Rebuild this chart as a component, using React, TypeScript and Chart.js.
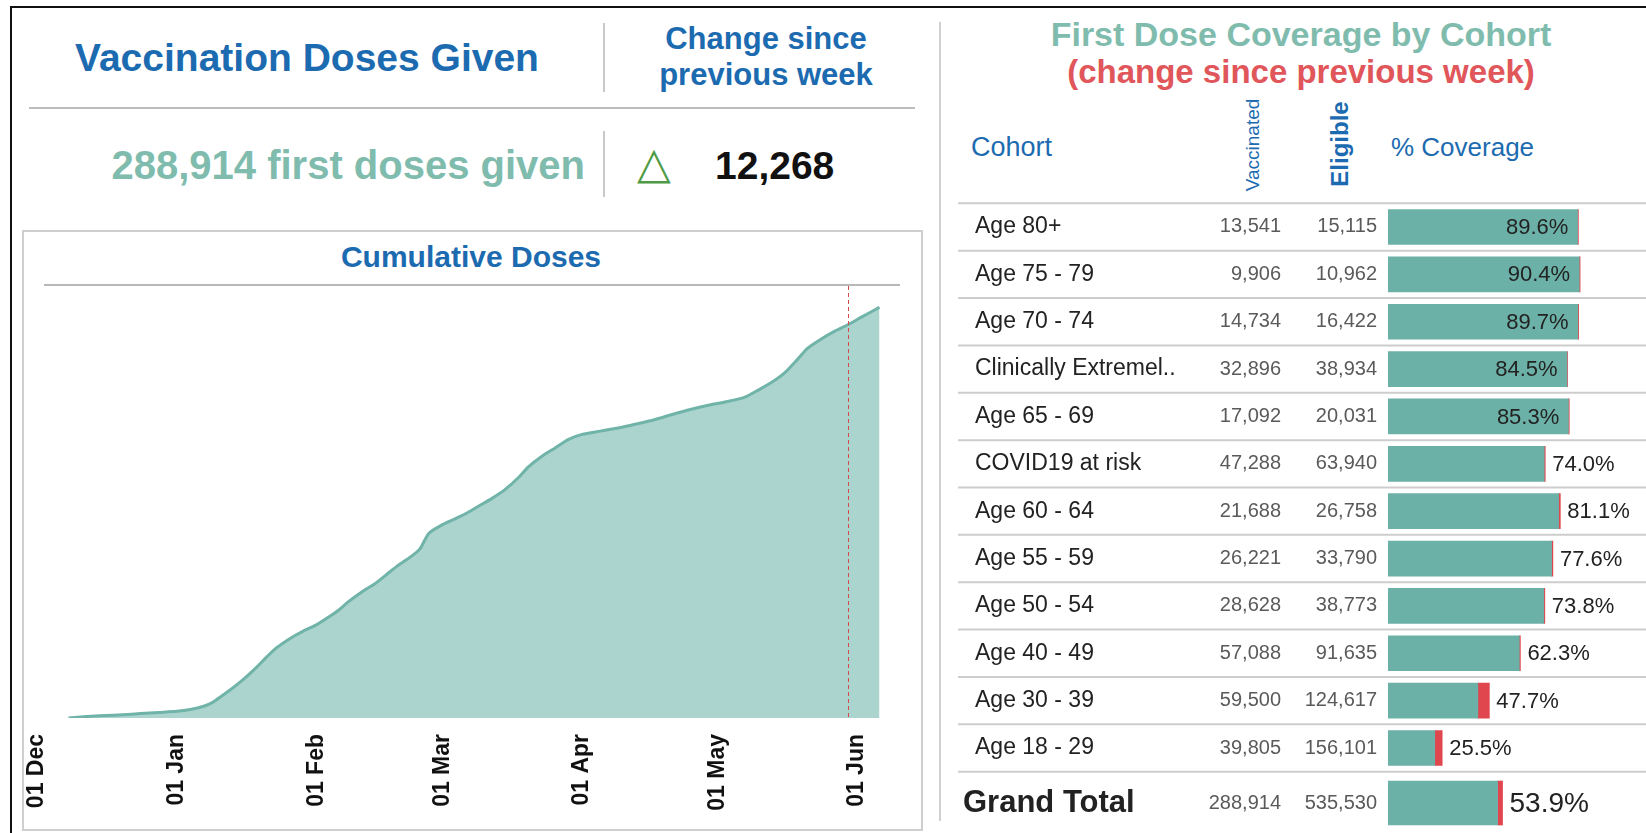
import React, { useEffect, useRef } from "react";
import { Chart, registerables } from "chart.js";

Chart.register(...registerables);

const FONT = "'Liberation Sans', Arial, Helvetica, sans-serif";
Chart.defaults.font.family = FONT;

// ---------- Cumulative doses (first doses) ----------
const doseDates = [
  "2020-12-08", "2020-12-12", "2020-12-16", "2020-12-20", "2020-12-24", "2020-12-28",
  "2021-01-01", "2021-01-04", "2021-01-07", "2021-01-09", "2021-01-11", "2021-01-13",
  "2021-01-15", "2021-01-17", "2021-01-19", "2021-01-21", "2021-01-23", "2021-01-25",
  "2021-01-27", "2021-01-29", "2021-02-01", "2021-02-04", "2021-02-06", "2021-02-08",
  "2021-02-11", "2021-02-14", "2021-02-17", "2021-02-19", "2021-02-22", "2021-02-24",
  "2021-02-26", "2021-03-01", "2021-03-04", "2021-03-06", "2021-03-09", "2021-03-12",
  "2021-03-15", "2021-03-18", "2021-03-20", "2021-03-23", "2021-03-26", "2021-03-29",
  "2021-04-01", "2021-04-05", "2021-04-09", "2021-04-13", "2021-04-17", "2021-04-21",
  "2021-04-25", "2021-04-29", "2021-05-03", "2021-05-07", "2021-05-10", "2021-05-13",
  "2021-05-16", "2021-05-19", "2021-05-21", "2021-05-24", "2021-05-27", "2021-05-30",
  "2021-06-02", "2021-06-06",
];
const cumulativeFirstDoses = [
  0, 1000, 1700, 2300, 3100, 3900,
  4700, 6000, 8300, 11000, 15500, 20000,
  25000, 30500, 36500, 43000, 49000, 53500,
  57500, 61000, 65500, 71500, 76000, 81500,
  88500, 94500, 102000, 107000, 113500, 119000,
  130000, 136000, 140500, 143500, 149000, 154500,
  161000, 169500, 176500, 184000, 190000, 196000,
  199500, 201800, 204000, 206800, 209800, 213500,
  217000, 220000, 222500, 225500, 230500, 236000,
  243000, 253000, 260000, 266500, 272000, 276646,
  282000, 288914,
];
const tickDates = ["2020-12-01", "2021-01-01", "2021-02-01", "2021-03-01", "2021-04-01", "2021-05-01", "2021-06-01"];
const tickLabels = ["01 Dec", "01 Jan", "01 Feb", "01 Mar", "01 Apr", "01 May", "01 Jun"];
const previousWeekDate = "2021-05-30";

// ---------- Coverage by cohort ----------
const cohorts = [
  "Age 80+", "Age 75 - 79", "Age 70 - 74", "Clinically Extremel..", "Age 65 - 69", "COVID19 at risk",
  "Age 60 - 64", "Age 55 - 59", "Age 50 - 54", "Age 40 - 49", "Age 30 - 39", "Age 18 - 29",
];
const vaccinated = [13541, 9906, 14734, 32896, 17092, 47288, 21688, 26221, 28628, 57088, 59500, 39805];
const eligible = [15115, 10962, 16422, 38934, 20031, 63940, 26758, 33790, 38773, 91635, 124617, 156101];
const coveragePct = [89.6, 90.4, 89.7, 84.5, 85.3, 74.0, 81.1, 77.6, 73.8, 62.3, 47.7, 25.5];
const weeklyChangePct = [0.4, 0.4, 0.4, 0.3, 0.4, 0.5, 0.8, 0.6, 0.5, 0.5, 5.4, 3.5];

const totalLabel = ["Grand Total"];
const totalVaccinated = [288914];
const totalEligible = [535530];
const totalCoveragePct = [53.9];
const totalChangePct = [2.3];

const firstDosesGiven = 288914;
const weeklyChange = 12268;

// ---------- helpers ----------
function dayIndex(iso: string) {
  const [y, m, d] = iso.split("-").map(Number);
  return Math.round((Date.UTC(y, m - 1, d) - Date.UTC(2020, 11, 1)) / 86400000);
}
const fmt = (n: number) => n.toLocaleString("en-US");

const BLUE = "#1c6bb0";
const TEAL_TEXT = "#7fbcae";
const RED_TEXT = "#e0565a";
const BAR_TEAL = "#6cb1a7";
const BAR_RED = "#e0464e";

function CumulativeChart() {
  const ref = useRef<HTMLCanvasElement>(null);
  useEffect(() => {
    const refLine = {
      id: "refLine",
      afterDatasetsDraw(chart: any) {
        const { ctx, chartArea, scales } = chart;
        const x = Math.round(scales.x.getPixelForValue(dayIndex(previousWeekDate))) + 0.5;
        ctx.save();
        ctx.strokeStyle = "#d24a4a";
        ctx.lineWidth = 1;
        ctx.setLineDash([4, 3]);
        ctx.beginPath();
        ctx.moveTo(x, 0);
        ctx.lineTo(x, chartArea.bottom);
        ctx.stroke();
        ctx.restore();
      },
    };
    const chart = new Chart(ref.current!, {
      type: "line",
      data: {
        datasets: [
          {
            data: doseDates.map((d, i) => ({ x: dayIndex(d), y: cumulativeFirstDoses[i] })),
            borderColor: "#70b3a8",
            backgroundColor: "#acd4cf",
            borderWidth: 3,
            fill: "origin",
            pointRadius: 0,
            tension: 0.25,
          },
        ],
      },
      options: {
        animation: false,
        responsive: false,
        maintainAspectRatio: false,
        layout: { padding: { left: 14, right: 29, top: 0, bottom: 0 } },
        plugins: { legend: { display: false }, tooltip: { enabled: false } },
        scales: {
          x: {
            type: "linear",
            min: 0,
            max: 190,
            grid: { display: false, drawTicks: true, tickLength: 13 },
            border: { display: false },
            afterBuildTicks: (s: any) => {
              s.ticks = tickDates.map((d) => ({ value: dayIndex(d) }));
            },
            afterFit: (s: any) => {
              s.height = 111;
              s.paddingLeft = 0;
              s.paddingRight = 0;
            },
            ticks: {
              autoSkip: false,
              maxRotation: 90,
              minRotation: 90,
              padding: 3,
              color: "#111",
              font: { family: FONT, size: 23, weight: "bold" },
              callback: (v: any) => {
                const i = tickDates.findIndex((d) => dayIndex(d) === v);
                return i >= 0 ? tickLabels[i] : "";
              },
            },
          },
          y: { display: false, min: 0, max: 303900 },
        },
      } as any,
      plugins: [refLine],
    });
    return () => chart.destroy();
  }, []);
  return (
    <canvas
      ref={ref}
      width={899}
      height={543}
      style={{ position: "absolute", left: 23, top: 286, width: 899, height: 543 }}
    />
  );
}

type BarProps = {
  labels: string[];
  vac: number[];
  elig: number[];
  cov: number[];
  chg: number[];
  left: number;
  top: number;
  width: number;
  height: number;
  padTop: number;
  padBottom: number;
  thickness: number;
  labelFont: string;
  labelX: number;
  pctFont: string;
  separators: boolean;
};

const BAR_START = 1388;
const PX_PER_PCT = 2.125;

function CohortBars(p: BarProps) {
  const ref = useRef<HTMLCanvasElement>(null);
  useEffect(() => {
    const textPlugin = {
      id: "tableText",
      beforeDatasetsDraw(chart: any) {
        if (!p.separators) return;
        const { ctx, chartArea } = chart;
        const n = p.labels.length;
        ctx.save();
        ctx.strokeStyle = "#cdcdcd";
        ctx.lineWidth = 2;
        for (let i = 0; i <= n; i++) {
          const y = chartArea.top + (i * chartArea.height) / n;
          ctx.beginPath();
          ctx.moveTo(0, y);
          ctx.lineTo(chart.width, y);
          ctx.stroke();
        }
        ctx.restore();
      },
      afterDatasetsDraw(chart: any) {
        const { ctx, scales } = chart;
        ctx.save();
        ctx.textBaseline = "middle";
        p.labels.forEach((lab, i) => {
          const cy = scales.y.getPixelForValue(i);
          ctx.fillStyle = "#222";
          ctx.font = p.labelFont;
          ctx.textAlign = "left";
          ctx.fillText(lab, p.labelX - p.left, cy);
          ctx.fillStyle = "#5a5a5a";
          ctx.font = `20px ${FONT}`;
          ctx.textAlign = "right";
          ctx.fillText(fmt(p.vac[i]), 1281 - p.left, cy);
          ctx.fillText(fmt(p.elig[i]), 1377 - p.left, cy);
          const xe = scales.x.getPixelForValue(p.cov[i]);
          ctx.fillStyle = "#222";
          ctx.font = p.pctFont;
          const txt = p.cov[i].toFixed(1) + "%";
          if (p.cov[i] >= 84) {
            ctx.textAlign = "right";
            ctx.fillText(txt, xe - 10, cy + 1);
          } else {
            ctx.textAlign = "left";
            ctx.fillText(txt, xe + 7, cy + 1);
          }
        });
        ctx.restore();
      },
    };
    const chart = new Chart(ref.current!, {
      type: "bar",
      data: {
        labels: p.labels,
        datasets: [
          {
            data: p.cov.map((c, i) => c - p.chg[i]),
            backgroundColor: BAR_TEAL,
            barThickness: p.thickness,
          },
          {
            data: p.chg,
            backgroundColor: BAR_RED,
            barThickness: p.thickness,
          },
        ],
      },
      options: {
        indexAxis: "y",
        animation: false,
        responsive: false,
        maintainAspectRatio: false,
        layout: {
          padding: { left: BAR_START - p.left, right: 0, top: p.padTop, bottom: p.padBottom },
        },
        plugins: { legend: { display: false }, tooltip: { enabled: false } },
        scales: {
          x: {
            display: false,
            stacked: true,
            min: 0,
            max: (p.left + p.width - BAR_START) / PX_PER_PCT,
          },
          y: { display: false, stacked: true },
        },
      } as any,
      plugins: [textPlugin],
    });
    return () => chart.destroy();
  }, []);
  return (
    <canvas
      ref={ref}
      width={p.width}
      height={p.height}
      style={{ position: "absolute", left: p.left, top: p.top, width: p.width, height: p.height }}
    />
  );
}

function T(props: {
  x: number;
  y: number;
  align?: "left" | "center" | "right";
  rotate?: boolean;
  style?: React.CSSProperties;
  children: React.ReactNode;
}) {
  const a = props.align || "center";
  const tx = a === "left" ? "0" : a === "right" ? "-100%" : "-50%";
  return (
    <div
      style={{
        position: "absolute",
        left: props.x,
        top: props.y,
        transform: `translate(${tx}, -50%)${props.rotate ? " rotate(-90deg)" : ""}`,
        whiteSpace: "nowrap",
        lineHeight: 1,
        textAlign: a,
        ...props.style,
      }}
    >
      {props.children}
    </div>
  );
}

function Line(props: { x: number; y: number; w: number; h: number; c?: string }) {
  return (
    <div
      style={{
        position: "absolute",
        left: props.x,
        top: props.y,
        width: props.w,
        height: props.h,
        background: props.c || "#c9c9c9",
      }}
    />
  );
}

export default function App() {
  return (
    <div
      style={{
        position: "absolute",
        left: 0,
        top: 0,
        width: 1646,
        height: 833,
        overflow: "hidden",
        background: "#fff",
        fontFamily: FONT,
      }}
    >
      {/* outer frame */}
      <Line x={10} y={6} w={1636} h={2} c="#111" />
      <Line x={10} y={6} w={2} h={827} c="#111" />

      {/* left header */}
      <T x={307} y={57} style={{ fontSize: 39, fontWeight: "bold", color: BLUE }}>
        Vaccination Doses Given
      </T>
      <Line x={603} y={23} w={2} h={69} />
      <T x={766} y={57} style={{ fontSize: 31, fontWeight: "bold", color: BLUE, lineHeight: "36px" }}>
        Change since
        <br />
        previous week
      </T>
      <Line x={29} y={107} w={886} h={2} c="#bdbdbd" />
      <T x={585} y={165} align="right" style={{ fontSize: 40, fontWeight: "bold", color: TEAL_TEXT }}>
        {fmt(firstDosesGiven)} first doses given
      </T>
      <Line x={603} y={131} w={2} h={66} />
      <T x={654} y={163} style={{ fontSize: 44, color: "#4e9a45", fontFamily: "'DejaVu Sans', sans-serif" }}>
        △
      </T>
      <T x={715} y={165} align="left" style={{ fontSize: 39, fontWeight: "bold", color: "#111" }}>
        {fmt(weeklyChange)}
      </T>

      {/* cumulative chart panel */}
      <div
        style={{
          position: "absolute",
          left: 22,
          top: 230,
          width: 897,
          height: 597,
          border: "2px solid #cfcfcf",
        }}
      />
      <T x={471} y={257} style={{ fontSize: 30, fontWeight: "bold", color: BLUE }}>
        Cumulative Doses
      </T>
      <Line x={44} y={284} w={856} h={2} c="#b8b8b8" />
      <CumulativeChart />

      {/* right panel */}
      <Line x={939} y={22} w={2} h={799} c="#d0d0d0" />
      <T x={1301} y={34} style={{ fontSize: 34, fontWeight: "bold", color: TEAL_TEXT }}>
        First Dose Coverage by Cohort
      </T>
      <T x={1301} y={71} style={{ fontSize: 33, fontWeight: "bold", color: RED_TEXT }}>
        (change since previous week)
      </T>
      <T x={971} y={147} align="left" style={{ fontSize: 27, color: BLUE }}>
        Cohort
      </T>
      <T x={1252} y={145} rotate style={{ fontSize: 19, color: BLUE }}>
        Vaccinated
      </T>
      <T x={1340} y={144} rotate style={{ fontSize: 24, fontWeight: "bold", color: BLUE }}>
        Eligible
      </T>
      <T x={1391} y={147} align="left" style={{ fontSize: 26, color: BLUE }}>
        % Coverage
      </T>

      <CohortBars
        labels={cohorts}
        vac={vaccinated}
        elig={eligible}
        cov={coveragePct}
        chg={weeklyChangePct}
        left={958}
        top={200}
        width={688}
        height={576}
        padTop={3.3}
        padBottom={4.3}
        thickness={35}
        labelFont={`23px ${FONT}`}
        labelX={975}
        pctFont={`22px ${FONT}`}
        separators={true}
      />
      <CohortBars
        labels={totalLabel}
        vac={totalVaccinated}
        elig={totalEligible}
        cov={totalCoveragePct}
        chg={totalChangePct}
        left={958}
        top={776}
        width={688}
        height={54}
        padTop={0}
        padBottom={0}
        thickness={44}
        labelFont={`bold 31px ${FONT}`}
        labelX={963}
        pctFont={`28px ${FONT}`}
        separators={false}
      />
    </div>
  );
}
